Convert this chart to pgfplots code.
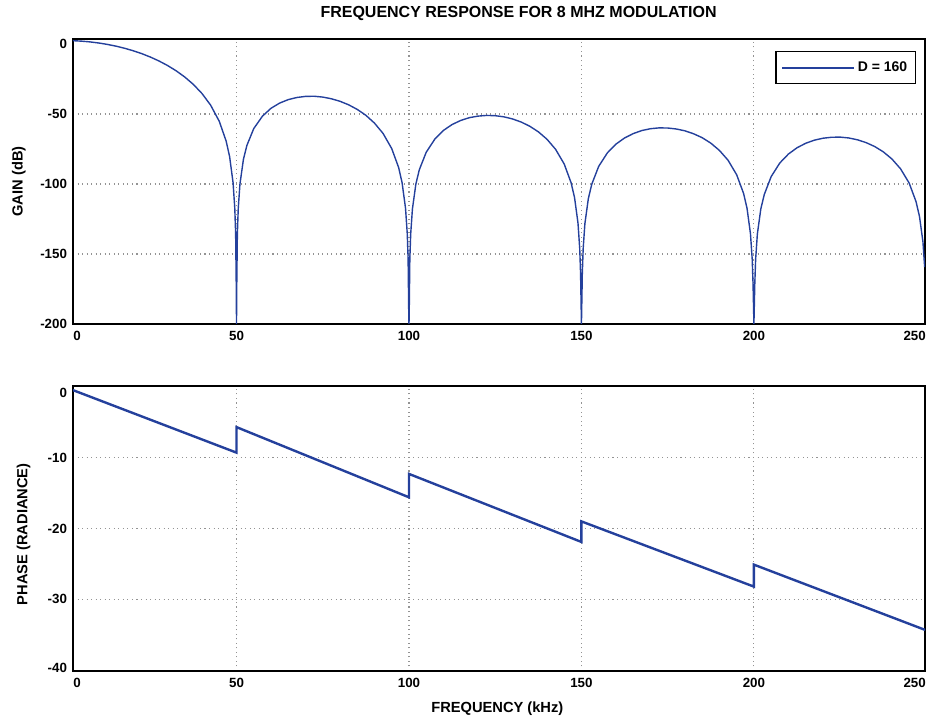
\documentclass[border=0pt]{standalone}
\usepackage{pgfplots}
\pgfplotsset{compat=1.18}
\usepackage{fontspec}
\setmainfont{Liberation Sans}
\definecolor{curve}{RGB}{36,64,156}
\pgfplotsset{
  common/.style={
    scale only axis,
    width=639pt, height=213.75pt,
    anchor=south west,
    xmin=2.6, xmax=249.6,
    axis line style={line width=1.3pt, black},
    tick style={draw=none},
    major tick length=0pt,
    grid=major,
    major grid style={dash pattern=on 0.8pt off 2.6pt, gray!85, line width=0.8pt},
    xtick={50,100,150,200},
    xticklabels={50,100,150,200},
    extra x ticks={3.8,246.6},
    extra x tick labels={0,250},
    ticklabel style={font=\fontsize{10}{12}\selectfont\bfseries},
    xticklabel style={yshift=-2pt},
    yticklabel style={xshift=-1pt},
    clip=true,
  }
}
\begin{document}
\begin{tikzpicture}
\useasboundingbox (0,0) rectangle (696pt,540.75pt);
% ---------------- Gain ----------------
\begin{axis}[common,
  at={(54.75pt,297.75pt)},
  ymin=-200, ymax=3.6,
  ytick={-50,-100,-150},
  yticklabels={-50,-100,-150},
  extra y ticks={0,-200},
  extra y tick labels={0,-200},
  extra y tick style={grid=none},
  extra x tick style={grid=none},
  ylabel={GAIN (dB)},
  every axis y label/.style={at={(axis description cs:-0.0635,0.5)}, rotate=90, anchor=center, font=\fontsize{11}{13}\selectfont\bfseries},
  title={FREQUENCY RESPONSE FOR 8 MHZ MODULATION},
  every axis title/.style={at={(axis description cs:0.523,1.088)}, anchor=center, font=\fontsize{12}{14}\selectfont\bfseries},
  legend style={at={(1,1)}, anchor=north east, xshift=-6.75pt, yshift=-9pt,
    draw=black, line width=1.1pt, font=\fontsize{10.5}{12}\selectfont\bfseries,
    inner xsep=4pt, inner ysep=5.5pt},
  legend image code/.code={\draw[draw=curve, line width=1.5pt] (0pt,0pt) -- (54pt,0pt);},
]
\addplot[curve, line width=1.05pt] coordinates {
(0,2.5)(2.5,2.39)(5,2.07)(7.5,1.53)(10,0.76)(12.5,-0.24)(15,-1.48)(17.5,-2.98)(20,-4.76)(22.5,-6.84)(25,-9.27)(27.5,-12.07)(30,-15.33)(32.5,-19.11)(35,-23.56)(37.5,-28.86)(40,-35.36)(42.5,-43.67)(45,-55.18)(47,-69.35)(48,-80.38)(49,-98.93)(49.5,-117.2)(49.75,-135.4)(49.95,-177.5)(50,-200)
(50.05,-177.6)(50.25,-135.7)(50.5,-117.8)(51,-100.0)(52,-82.5)(53,-72.5)(55,-60.4)(57.5,-51.6)(60,-45.9)(62.5,-42.2)(65,-39.7)(67.5,-38.2)(70,-37.4)(72.5,-37.3)(75,-37.9)(77.5,-39.1)(80,-40.9)(82.5,-43.4)(85,-46.7)(87.5,-50.9)(90,-56.5)(92.5,-63.9)(95,-74.7)(97,-88.2)(98,-99.0)(99,-117.3)(99.5,-135.4)(99.75,-153.5)(99.95,-195.6)(100,-200)
(100.05,-195.6)(100.25,-153.7)(100.5,-135.7)(101,-117.8)(102,-100.0)(103,-89.8)(105,-77.3)(107.5,-67.9)(110,-61.7)(112.5,-57.5)(115,-54.6)(117.5,-52.6)(120,-51.5)(122.5,-51.0)(125,-51.2)(127.5,-52.0)(130,-53.5)(132.5,-55.7)(135,-58.7)(137.5,-62.7)(140,-68.0)(142.5,-75.2)(145,-85.7)(147,-99.1)(148,-109.7)(149,-127.9)(149.5,-146.1)(149.75,-164.1)(150,-200)
(150.25,-164.2)(150.5,-146.2)(151,-128.3)(152,-110.4)(153,-100.1)(155,-87.4)(157.5,-77.8)(160,-71.5)(162.5,-67.1)(165,-64.0)(167.5,-61.8)(170,-60.5)(172.5,-59.9)(175,-60.0)(177.5,-60.7)(180,-62.0)(182.5,-64.1)(185,-66.9)(187.5,-70.8)(190,-76.0)(192.5,-83.0)(195,-93.4)(197,-106.7)(198,-117.3)(199,-135.5)(199.5,-153.6)(199.75,-171.6)(200,-200)
(200.25,-171.7)(200.5,-153.7)(201,-135.7)(202,-117.8)(203,-107.5)(205,-94.7)(207.5,-85.0)(210,-78.6)(212.5,-74.1)(215,-70.9)(217.5,-68.7)(220,-67.3)(222.5,-66.6)(225,-66.5)(227.5,-67.1)(230,-68.4)(232.5,-70.4)(235,-73.2)(237.5,-77.0)(240,-82.1)(242.5,-89.1)(245,-99.3)(247,-112.6)(248,-123.2)(249,-141.3)(249.5,-159.4)
};
\addlegendentry{D = 160}
\end{axis}
% ---------------- Phase ----------------
\begin{axis}[common,
  at={(54.75pt,37.5pt)},
  ymin=-40.1, ymax=0.1,
  ytick={-10,-20,-30},
  yticklabels={-10,-20,-30},
  extra y ticks={-0.9,-39.6},
  extra y tick labels={0,-40},
  extra y tick style={grid=none},
  extra x tick style={grid=none},
  ylabel={PHASE (RADIANCE)},
  every axis y label/.style={at={(axis description cs:-0.058,0.48)}, rotate=90, anchor=center, font=\fontsize{11}{13}\selectfont\bfseries},
  xlabel={FREQUENCY (kHz)},
  every axis x label/.style={at={(axis description cs:0.498,-0.133)}, anchor=center, font=\fontsize{11}{13}\selectfont\bfseries},
]
\addplot[curve, line width=1.8pt] coordinates {
(0,0)(50,-9.3)(50,-5.7)(100,-15.6)(100,-12.3)(150,-21.9)(150,-19.0)(200,-28.2)(200,-25.1)(249.6,-34.3)
};
\end{axis}
\end{tikzpicture}
\end{document}
